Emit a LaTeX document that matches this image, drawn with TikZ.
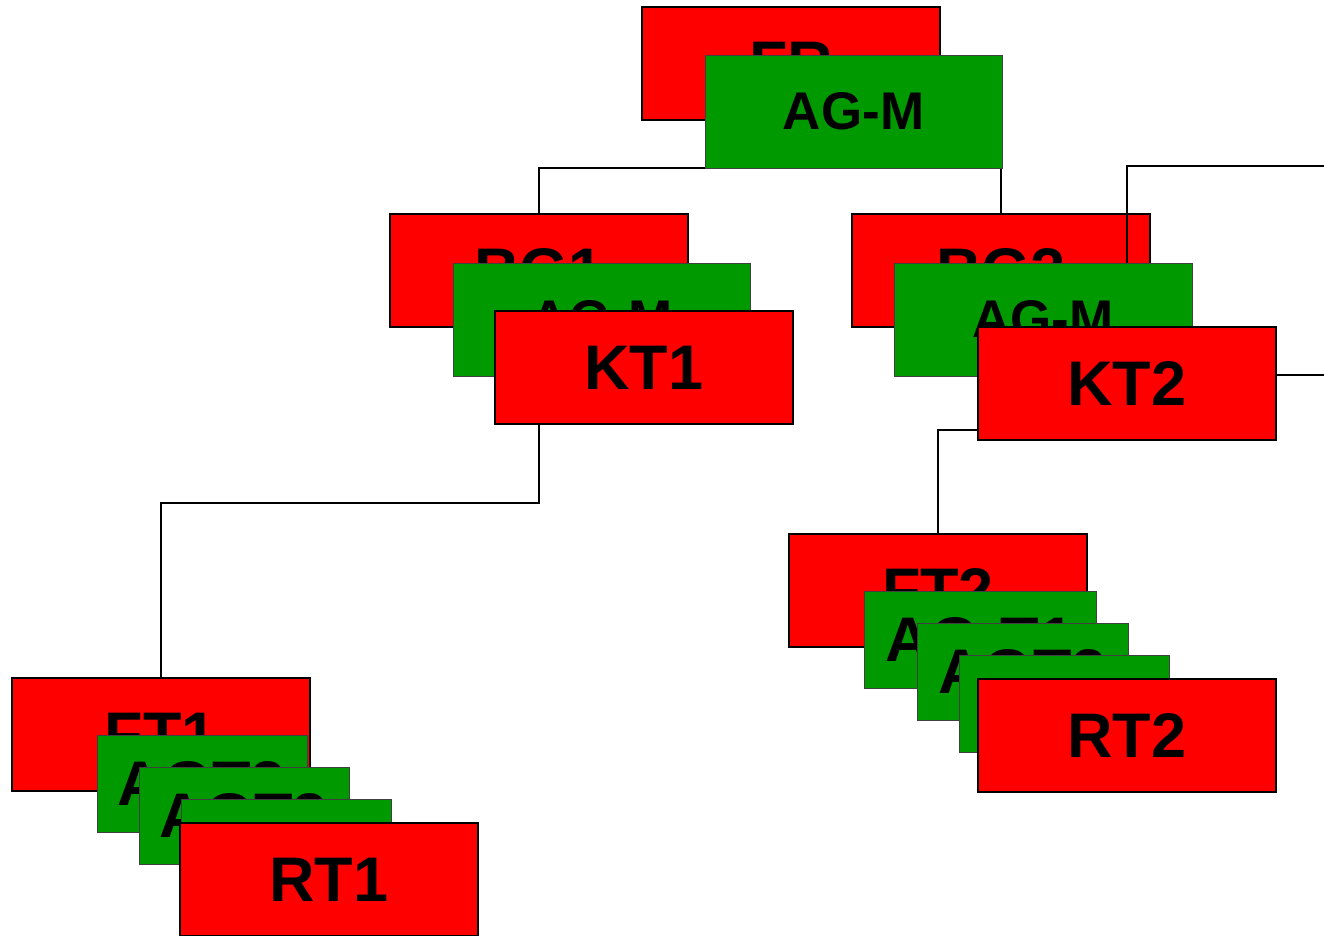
\documentclass[tikz,border=0pt]{standalone}
\usepackage{fontspec}
\setmainfont{Liberation Sans}
\definecolor{agreen}{RGB}{0,153,0}
\pgfdeclarelayer{paper}
\pgfdeclarelayer{lower}
\pgfdeclarelayer{lines}
\pgfsetlayers{paper,lower,lines,main}
\newcommand\bigtxt{\bfseries\fontsize{63}{68}\selectfont}
\newcommand\midtxt{\bfseries\fontsize{53}{60}\selectfont}
\begin{document}
\begin{tikzpicture}[x=1pt,y=-1pt,
  box/.style={anchor=north west, inner sep=0pt, outer sep=0pt},
  redbox/.style={box, draw=black, line width=1.6pt, fill=red, minimum width=298pt, minimum height=113pt, font=\bigtxt},
  greenbox/.style={box, draw=black!75, line width=1pt, fill=agreen, minimum width=297pt, minimum height=113pt, font=\midtxt},
  smallgreen/.style={box, draw=black!75, line width=1pt, fill=agreen, minimum width=210pt, minimum height=97pt, font=\bigtxt},
  link/.style={draw=black, line width=1.5pt}]
\useasboundingbox (0,0) rectangle (1324,935);
\begin{pgfonlayer}{paper}
\fill[white] (0,0) rectangle (1324,935);
\end{pgfonlayer}
% top
\node[redbox] (fr) at (642,7) {FR};
\node[greenbox] (agm0) at (705,55) {AG-M};
% BG1 stack
\node[redbox] (bg1) at (390,214) {BG1};
\node[greenbox] (agm1) at (453,263) {AG-M};
\node[redbox] (kt1) at (495,311) {KT1};
% BG2 stack
\begin{pgfonlayer}{lower}
\node[redbox] (bg2) at (852,214) {BG2};
\end{pgfonlayer}
\node[greenbox, minimum width=298pt] (agm2) at (894,263) {AG-M};
\node[redbox] (kt2) at (978,327) {KT2};
% FT1 stack
\node[redbox] (ft1) at (12,678) {FT1};
\node[smallgreen] (g11) at (97,735) {AGT2};
\node[smallgreen] (g12) at (139,767) {AGT3};
\node[smallgreen] (g13) at (181,799) {};
\node[redbox] (rt1) at (180,823) {RT1};
% FT2 stack
\node[redbox] (ft2) at (789,534) {FT2};
\node[smallgreen, minimum width=232pt] (g21) at (864,591) {AG-T1};
\node[smallgreen, minimum width=211pt] (g22) at (917,623) {AGT2};
\node[smallgreen] (g23) at (959,655) {};
\node[redbox] (rt2) at (978,679) {RT2};
% connectors
\coordinate (j1) at (300,503);
\coordinate (j2) at (950,430);
\coordinate (r1) at (1324,166);
\coordinate (r2) at (1324,375);
\begin{pgfonlayer}{lines}
\draw[link] (bg1.north) |- (agm0.south) -| (bg2.north);
\draw[link] (bg1.south) |- (j1) -| (ft1.north);
\draw[link] (bg2.south) |- (j2) -| (ft2.north);
\draw[link] (kt2.north) |- (r1);
\draw[link] (kt2.center |- r2) -- (r2);
\end{pgfonlayer}
\end{tikzpicture}
\end{document}
